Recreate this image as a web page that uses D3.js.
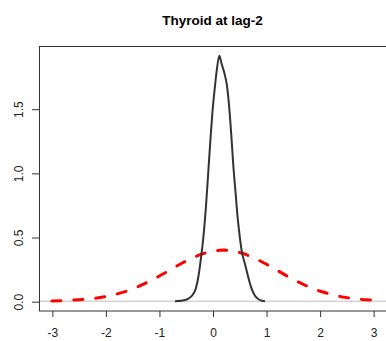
<!DOCTYPE html>
<html>
<head>
<meta charset="utf-8">
<script src="https://cdn.jsdelivr.net/npm/d3@7"></script>
<style>
  html, body { margin: 0; padding: 0; background: #fff; }
  svg { display: block; }
  text { font-family: "Liberation Sans", Arial, sans-serif; }
</style>
</head>
<body>
<svg id="chart" width="386" height="341"></svg>
<script>
// ---- data ----
const title = "Thyroid at lag-2";
const xTicks = [-3, -2, -1, 0, 1, 2, 3];
const yTicks = [0.0, 0.5, 1.0, 1.5];
const yTickLabels = ["0.0", "0.5", "1.0", "1.5"];

// black empirical density curve
const densX = [-0.70, -0.55, -0.45, -0.37, -0.31, -0.26, -0.22, -0.17, -0.12, -0.08, -0.04, 0.00, 0.04, 0.08, 0.127, 0.17, 0.22, 0.27, 0.31, 0.35, 0.39, 0.43, 0.47, 0.51, 0.55, 0.60, 0.66, 0.72, 0.79, 0.86, 0.92, 0.98];
const densY = [0.000, 0.005, 0.020, 0.050, 0.100, 0.200, 0.320, 0.500, 0.750, 1.000, 1.250, 1.480, 1.650, 1.800, 1.912, 1.850, 1.780, 1.680, 1.520, 1.300, 1.050, 0.850, 0.650, 0.500, 0.380, 0.300, 0.200, 0.110, 0.045, 0.015, 0.004, 0.000];

// red dashed reference curve
const refX = [-3.0, -2.8, -2.6, -2.4, -2.2, -2.0, -1.8, -1.6, -1.4, -1.2, -1.0, -0.8, -0.6, -0.4, -0.2, 0.0, 0.2, 0.4, 0.6, 0.8, 1.0, 1.2, 1.4, 1.6, 1.8, 2.0, 2.2, 2.4, 2.6, 2.8, 3.0];
const refY = [0.002, 0.004, 0.008, 0.014, 0.022, 0.035, 0.054, 0.079, 0.111, 0.150, 0.194, 0.242, 0.290, 0.333, 0.368, 0.391, 0.399, 0.391, 0.368, 0.333, 0.290, 0.242, 0.194, 0.150, 0.111, 0.079, 0.054, 0.035, 0.022, 0.014, 0.008];

// ---- layout ----
const svg = d3.select("#chart");
const plot = { left: 39, top: 46, right: 386, bottom: 311 };

const x = d3.scaleLinear().domain([-3.24, 3.24]).range([plot.left, plot.right]);
const y = d3.scaleLinear().domain([-0.0765, 1.9885]).range([plot.bottom, plot.top]);

// title
svg.append("text")
  .attr("x", (plot.left + plot.right) / 2)
  .attr("y", 25)
  .attr("text-anchor", "middle")
  .attr("font-size", "13.5px")
  .attr("font-weight", "bold")
  .attr("fill", "#000")
  .text(title);

// clip for plot region
svg.append("clipPath").attr("id", "clip")
  .append("rect")
  .attr("x", plot.left).attr("y", plot.top)
  .attr("width", plot.right - plot.left).attr("height", plot.bottom - plot.top);

const g = svg.append("g").attr("clip-path", "url(#clip)");

// gray zero line
g.append("line")
  .attr("x1", plot.left).attr("x2", plot.right)
  .attr("y1", y(0)).attr("y2", y(0))
  .attr("stroke", "#bebebe").attr("stroke-width", 1);

const line = d3.line().x(d => x(d[0])).y(d => y(d[1]));

// red dashed curve
g.append("path")
  .datum(d3.zip(refX, refY))
  .attr("d", line)
  .attr("fill", "none")
  .attr("stroke", "#ff0000")
  .attr("stroke-width", 3)
  .attr("stroke-dasharray", "9,13")
  .attr("stroke-linecap", "round");

// black density curve
g.append("path")
  .datum(d3.zip(densX, densY))
  .attr("d", line.curve(d3.curveMonotoneX))
  .attr("fill", "none")
  .attr("stroke", "#333")
  .attr("stroke-width", 2)
  .attr("stroke-linejoin", "round");

// box (top, left, bottom; right is outside the window)
svg.append("rect")
  .attr("x", plot.left + 0.5).attr("y", plot.top + 0.5)
  .attr("width", plot.right - plot.left + 5).attr("height", plot.bottom - plot.top - 0.5)
  .attr("fill", "none").attr("stroke", "#333").attr("stroke-width", 1);

// x axis
const xAxis = d3.axisBottom(x).tickValues(xTicks).tickFormat(d3.format("d")).tickSizeOuter(0).tickSize(6).tickPadding(11);
const gx = svg.append("g").attr("transform", `translate(0.5,${plot.bottom})`).call(xAxis);
gx.select(".domain").remove();
gx.selectAll(".tick line").attr("stroke", "#333");
gx.selectAll(".tick text")
  .attr("font-size", "12px").attr("fill", "#222")
  .attr("font-family", "Liberation Sans, Arial, sans-serif")
  .text(d => d < 0 ? "-" + Math.abs(d) : String(d));

// y axis
const yAxis = d3.axisLeft(y).tickValues(yTicks).tickFormat((d, i) => yTickLabels[i]).tickSizeOuter(0).tickSize(7).tickPadding(0);
const gy = svg.append("g").attr("transform", `translate(${plot.left},0.5)`).call(yAxis);
gy.select(".domain").remove();
gy.selectAll(".tick line").attr("stroke", "#333");
gy.selectAll(".tick text")
  .attr("font-size", "12px").attr("fill", "#222")
  .attr("font-family", "Liberation Sans, Arial, sans-serif")
  .attr("text-anchor", "middle")
  .attr("x", null).attr("dy", null)
  .attr("transform", "translate(-20,0) rotate(-90)")
  .attr("dominant-baseline", "central");
</script>
</body>
</html>
